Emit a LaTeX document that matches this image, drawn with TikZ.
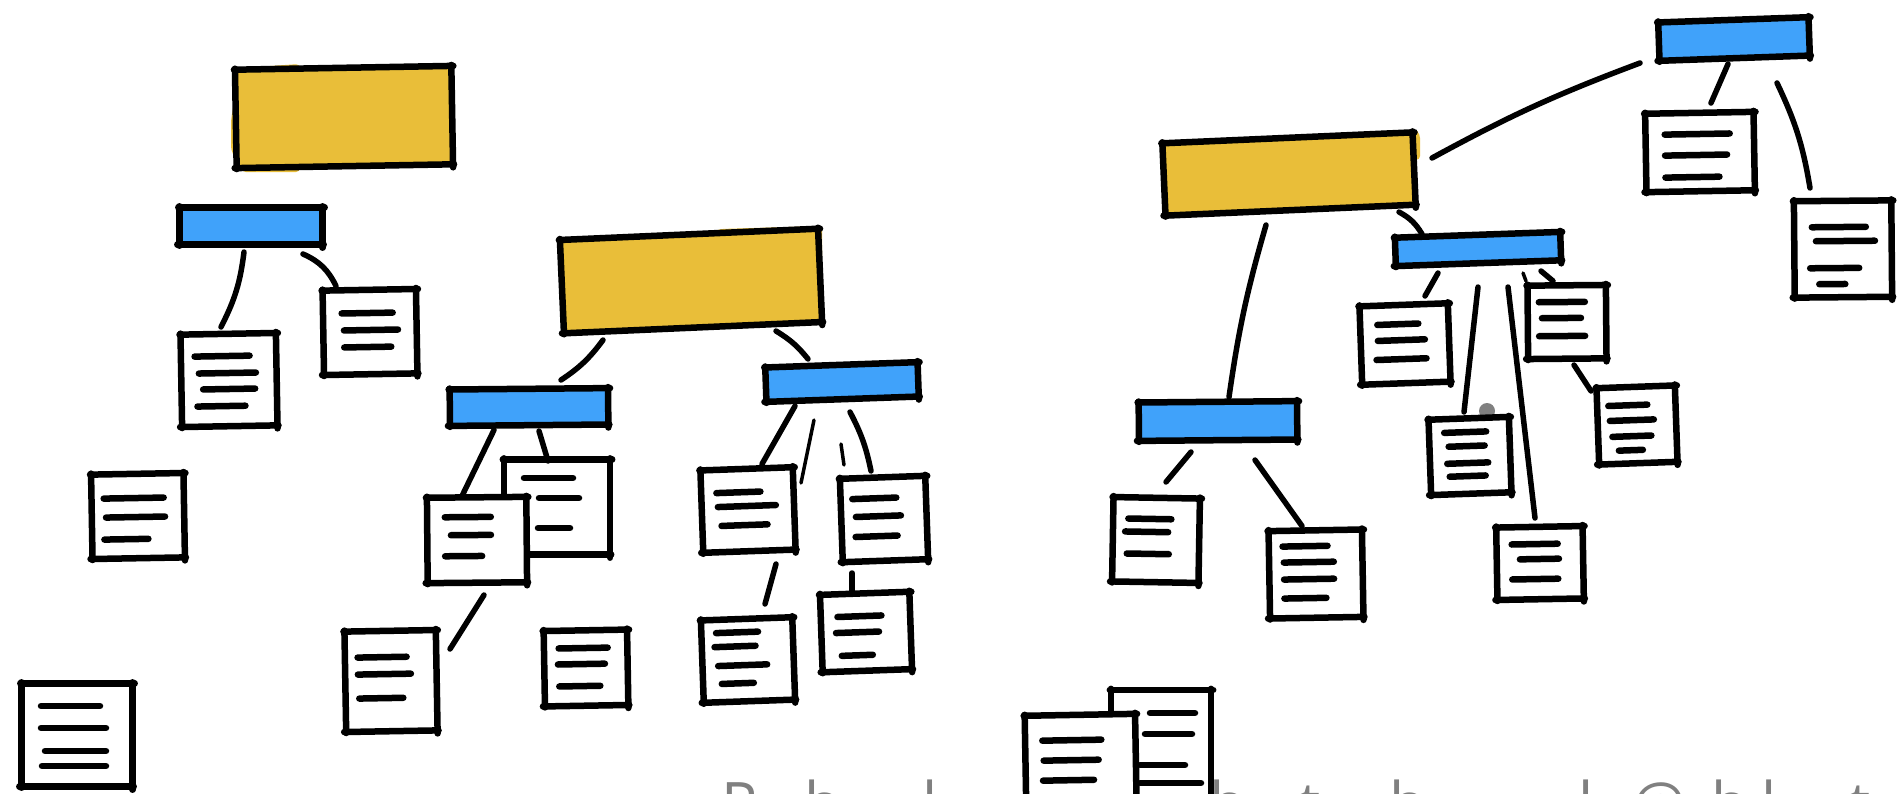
\documentclass[tikz,border=0pt]{standalone}
\usepackage{fontspec}
\setmainfont{Open Sans}
\definecolor{goldfill}{RGB}{233,190,57}
\definecolor{bluefill}{RGB}{64,162,250}
\definecolor{footgray}{RGB}{128,128,128}
\tikzset{
    ink/.style={line width=6.5pt, line cap=round, line join=round, black},
    stroke/.style={line width=6.5pt, line cap=round, black},
    link/.style={line width=5.5pt, line cap=round, black},
    thinlink/.style={line width=3.5pt, line cap=round, black},
    sheetbox/.style={fill=white, inner sep=0pt},
    goldbox/.style={fill=goldfill, inner sep=0pt},
    bluebox/.style={fill=bluefill, inner sep=0pt}
}
% name, x, y, width, height, tilt, node style
\newcommand{\sketchbox}[7]{
    \node[#7, minimum width=#4pt, minimum height=#5pt, rotate=#6] (#1) at (#2,#3) {};
    \draw[ink, shorten <=-1pt, shorten >=-2pt] (#1.north west) -- (#1.north east);
    \draw[ink, shorten <=-1pt, shorten >=-3pt] (#1.north east) -- (#1.south east);
    \draw[ink, shorten <=-1pt, shorten >=-2pt] (#1.south east) -- (#1.south west);
    \draw[ink, shorten <=-1pt, shorten >=-1pt] (#1.south west) -- (#1.north west);
}
% name, x, y, width, height, tilt, text strokes x1/x2/y
\newcommand{\sheet}[7]{
    \sketchbox{#1}{#2}{#3}{#4}{#5}{#6}{sheetbox}
    \begin{scope}[shift={(#2,#3)}, rotate=#6]
        \foreach \xa/\xb/\yy in {#7}
            \draw[stroke] (\xa,\yy) -- (\xb,\yy);
    \end{scope}
}
\begin{document}
\begin{tikzpicture}[x=1pt, y=-1pt]
    \clip (0,0) rectangle (1898,793);
    \fill[white] (0,0) rectangle (1898,793);

    % Footer line, only the tops of it stay on the page
    \foreach \glyph/\xpos [count=\n] in {R/721, h/804.5, l/922.5, h/1209.5, t/1299, h/1389.5, l/1578.5, @/1632, h/1711.5, l/1761.5, t/1849}
        \node[anchor=base west, inner sep=0pt, text=footgray, font=\fontsize{60}{60}\selectfont] (foot\n) at (\xpos,825) {\glyph};

    % Colour that runs over the outlines
    \fill[goldfill, rounded corners=4pt] (231,120) -- (240,68) -- (300,64) -- (300,172) -- (242,172) -- (231,150) -- cycle;
    \fill[goldfill, rounded corners=4pt] (700,236) -- (720,229) -- (822,226) -- (822,260) -- (700,260) -- cycle;
    \fill[goldfill, rounded corners=4pt] (1165,170) -- (1170,216) -- (1200,216) -- (1200,170) -- cycle;
    \fill[goldfill, rounded corners=4pt] (1380,136) -- (1415,129) -- (1420,134) -- (1420,160) -- (1380,160) -- cycle;

    % Left tree
    \sketchbox{golda}{344}{117}{216}{98}{1}{goldbox}
    \sketchbox{bluea}{251}{226}{143}{37}{0}{bluebox}
    \sheet{doca1}{229}{380}{95}{92}{1}{-34/21/-24, -30/27/-7, -26/26/9, -32/16/26}
    \sheet{doca2}{370}{332}{93}{84}{1}{-28/23/-19, -26/28/-2, -26/21/15}
    \sheet{doca3}{138}{516}{92}{84}{1}{-34/26/-18, -32/27/1, -34/10/23}
    \sheet{doca4}{77}{735}{111}{103}{0}{-36/23/-29, -36/29/-7, -32/29/16, -35/29/31}
    \draw[link] ([shift={(-7,26)}]bluea.center) to[bend left=10] ([shift={(-8,-53)}]doca1.center);
    \draw[link] ([shift={(52,28)}]bluea.center) to[bend left=20] ([shift={(-34,-46)}]doca2.center);

    % Middle tree
    \sketchbox{goldb}{691}{281}{258}{93}{2.5}{goldbox}
    \sketchbox{blueb1}{529}{407}{158}{36}{0.5}{bluebox}
    \sketchbox{blueb2}{842}{382}{152}{34}{2}{bluebox}
    \sheet{docb1}{557}{507}{106}{95}{0}{-33/16/-29, -18/22/-9, -19/13/21}
    \sheet{docb2}{477}{540}{99}{85}{0.5}{-32/14/-23, -26/14/-5, -32/5/16}
    \sheet{docb3}{391}{681}{91}{100}{1}{-33/16/-24, -33/20/-7, -32/12/17}
    \sheet{docb4}{586}{668}{83}{75}{1}{-27/22/-20, -28/19/-4, -27/14/18}
    \sheet{docb5}{748}{510}{92}{82}{2}{-31/13/-18, -30/28/-4, -27/19/15}
    \sheet{docb6}{884}{519}{85}{83}{2}{-31/13/-21, -28/17/-3, -29/13/17}
    \sheet{docb7}{748}{660}{91}{82}{2}{-31/11/-28, -33/8/-14, -30/19/5, -27/5/23}
    \sheet{docb8}{866}{632}{89}{77}{2}{-28/16/-16, -30/13/0, -25/6/23}
    \draw[link] ([shift={(-88,59)}]goldb.center) to[bend left=10] ([shift={(32,-27)}]blueb1.center);
    \draw[link] ([shift={(85,50)}]goldb.center) to[bend left=10] ([shift={(-34,-23)}]blueb2.center);
    \draw[link] ([shift={(-35,23)}]blueb1.center) -- ([shift={(-15,-44)}]docb2.center);
    \draw[link] ([shift={(10,24)}]blueb1.center) -- ([shift={(-9,-46)}]docb1.center);
    \draw[link] ([shift={(7,55)}]docb2.center) -- ([shift={(59,-32)}]docb3.center);
    \draw[link] ([shift={(-47,24)}]blueb2.center) -- ([shift={(14,-46)}]docb5.center);
    \draw[thinlink] ([shift={(-28,38)}]blueb2.center) -- ([shift={(53,-27)}]docb5.center);
    \draw[thinlink] ([shift={(-1,62)}]blueb2.center) -- ([shift={(-40,-54)}]docb6.center);
    \draw[link] ([shift={(8,30)}]blueb2.center) to[bend left=8] ([shift={(-13,-48)}]docb6.center);
    \draw[link] ([shift={(28,54)}]docb5.center) -- ([shift={(17,-56)}]docb7.center);
    \draw[link] ([shift={(-32,54)}]docb6.center) -- ([shift={(-14,-41)}]docb8.center);

    % Right tree
    \fill[footgray] (1487,411) circle (8);
    \sketchbox{goldc}{1289}{174}{250}{72}{2.5}{goldbox}
    \sketchbox{bluec0}{1734}{39}{150}{38}{2}{bluebox}
    \sketchbox{bluec1}{1478}{249}{165}{28}{2}{bluebox}
    \sketchbox{bluec2}{1218}{421}{158}{38}{0.5}{bluebox}
    \sheet{docc1}{1700}{152}{108}{78}{1}{-35/30/-18, -35/27/3, -35/19/25}
    \sheet{docc2}{1843}{249}{97}{96}{0.5}{-31/23/-22, -27/32/-8, -33/16/19, -24/2/35}
    \sheet{docc3}{1405}{344}{88}{78}{2}{-27/14/-20, -27/20/-4, -29/21/15}
    \sheet{docc4}{1567}{322}{78}{73}{0.5}{-28/18/-20, -25/14/-4, -28/18/14}
    \sheet{docc5}{1637}{425}{78}{76}{2}{-28/11/-20, -27/17/-5, -25/14/11, -19/5/25}
    \sheet{docc6}{1470}{456}{80}{75}{2}{-25/17/-24, -21/15/-10, -23/18/7, -21/15/20}
    \sheet{docc7}{1540}{563}{86}{72}{1}{-28/18/-19, -20/19/-4, -28/18/16}
    \sheet{docc8}{1156}{540}{86}{84}{-1}{-28/15/-21, -31/12/-8, -29/13/14}
    \sheet{docc9}{1316}{574}{93}{87}{1}{-33/12/-28, -32/18/-12, -32/18/5, -32/10/24}
    \draw[link] ([shift={(143,-16)}]goldc.center) to[bend left=4] ([shift={(-94,24)}]bluec0.center);
    \draw[link] ([shift={(-6,25)}]bluec0.center) -- ([shift={(11,-49)}]docc1.center);
    \draw[link] ([shift={(43,44)}]bluec0.center) to[bend left=8] ([shift={(-33,-61)}]docc2.center);
    \draw[link] ([shift={(110,38)}]goldc.center) to[bend left=15] ([shift={(-56,-15)}]bluec1.center);
    \draw[link] ([shift={(-23,51)}]goldc.center) to[bend right=4] ([shift={(11,-24)}]bluec2.center);
    \draw[link] ([shift={(-40,24)}]bluec1.center) -- ([shift={(20,-48)}]docc3.center);
    \draw[link] ([shift={(0,38)}]bluec1.center) -- ([shift={(-6,-44)}]docc6.center);
    \draw[link] ([shift={(30,38)}]bluec1.center) -- ([shift={(-5,-45)}]docc7.center);
    \draw[thinlink] ([shift={(45,24)}]bluec1.center) -- ([shift={(-41,-41)}]docc4.center);
    \draw[link] ([shift={(63,22)}]bluec1.center) -- ([shift={(-14,-41)}]docc4.center);
    \draw[link] ([shift={(7,43)}]docc4.center) -- ([shift={(-46,-34)}]docc5.center);
    \draw[link] ([shift={(-27,31)}]bluec2.center) -- ([shift={(10,-58)}]docc8.center);
    \draw[link] ([shift={(37,39)}]bluec2.center) -- ([shift={(-14,-48)}]docc9.center);

    % Loose pair at the bottom
    \sheet{docc10}{1161}{750}{100}{120}{0}{-11/34/-37, -16/31/-16, -21/24/15, -21/40/33}
    \sheet{docc11}{1081}{780}{110}{130}{1}{-38/21/-40, -37/18/-20, -38/13/0}
\end{tikzpicture}
\end{document}
